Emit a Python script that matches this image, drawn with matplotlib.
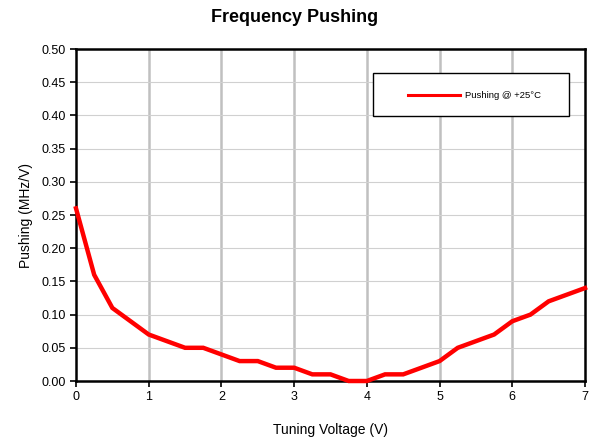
import matplotlib
matplotlib.use("Agg")
import matplotlib.pyplot as plt
from matplotlib.lines import Line2D
from matplotlib.patches import Rectangle

plt.rcParams['font.family'] = ['Liberation Sans', 'DejaVu Sans']

voltage = [0, 0.25, 0.5, 0.75, 1, 1.25, 1.5, 1.75, 2, 2.25, 2.5, 2.75, 3, 3.25, 3.5,
           3.75, 4, 4.25, 4.5, 4.75, 5, 5.25, 5.5, 5.75, 6, 6.25, 6.5, 6.75, 7]
pushing = [0.26, 0.16, 0.11, 0.09, 0.07, 0.06, 0.05, 0.05, 0.04, 0.03, 0.03, 0.02, 0.02, 0.01, 0.01,
           0.0, 0.0, 0.01, 0.01, 0.02, 0.03, 0.05, 0.06, 0.07, 0.09, 0.10, 0.12, 0.13, 0.14]
x_ticks = [0, 1, 2, 3, 4, 5, 6, 7]
y_ticks = [0.00, 0.05, 0.10, 0.15, 0.20, 0.25, 0.30, 0.35, 0.40, 0.45, 0.50]
series_label = 'Pushing @ +25°C'

W, H = 589, 441
fig = plt.figure(figsize=(W/100, H/100), dpi=100)
ax = fig.add_axes([76/W, 1-381/H, 509/W, 332/H])

ax.plot(voltage, pushing, color='#ff0000', lw=3.2, solid_joinstyle='miter', zorder=3, clip_on=False)
ax.set_xlim(0, 7)
ax.set_ylim(0, 0.5)
ax.set_xticks(x_ticks)
ax.set_yticks(y_ticks)
ax.set_yticklabels([f"{v:.2f}" for v in y_ticks])
ax.tick_params(axis='both', labelsize=9, direction='out', length=4, width=1.2, colors='black')

for v in x_ticks[1:-1]:
    ax.axvline(v, color='#c0c0c0', lw=1.8, zorder=1)
for v in y_ticks[1:-1]:
    ax.axhline(v, color='#d0d0d0', lw=0.8, zorder=1)

for s in ax.spines.values():
    s.set_linewidth(1.8)
    s.set_color('black')

ax.set_xlabel('Tuning Voltage (V)', fontsize=10, labelpad=14)
ax.set_ylabel('Pushing (MHz/V)', fontsize=10, labelpad=6)
fig.text(0.5, 1-18/H, 'Frequency Pushing', ha='center', va='center', fontsize=13, fontweight='bold')

# Legend box drawn in figure pixel coordinates
def fx(px):
    return px / W
def fy(py):
    return 1 - py / H

fig.patches.append(Rectangle((fx(373), fy(116)), fx(569) - fx(373), fy(73) - fy(116),
                             transform=fig.transFigure, facecolor='white', edgecolor='black',
                             lw=1.0, zorder=5))
fig.lines.append(Line2D([fx(408), fx(460)], [fy(95), fy(95)], transform=fig.transFigure,
                        color='#ff0000', lw=2.2, zorder=6))
fig.text(fx(465), fy(95), series_label, ha='left', va='center', fontsize=6.8, zorder=6)

fig.savefig('out.png', dpi=100)
